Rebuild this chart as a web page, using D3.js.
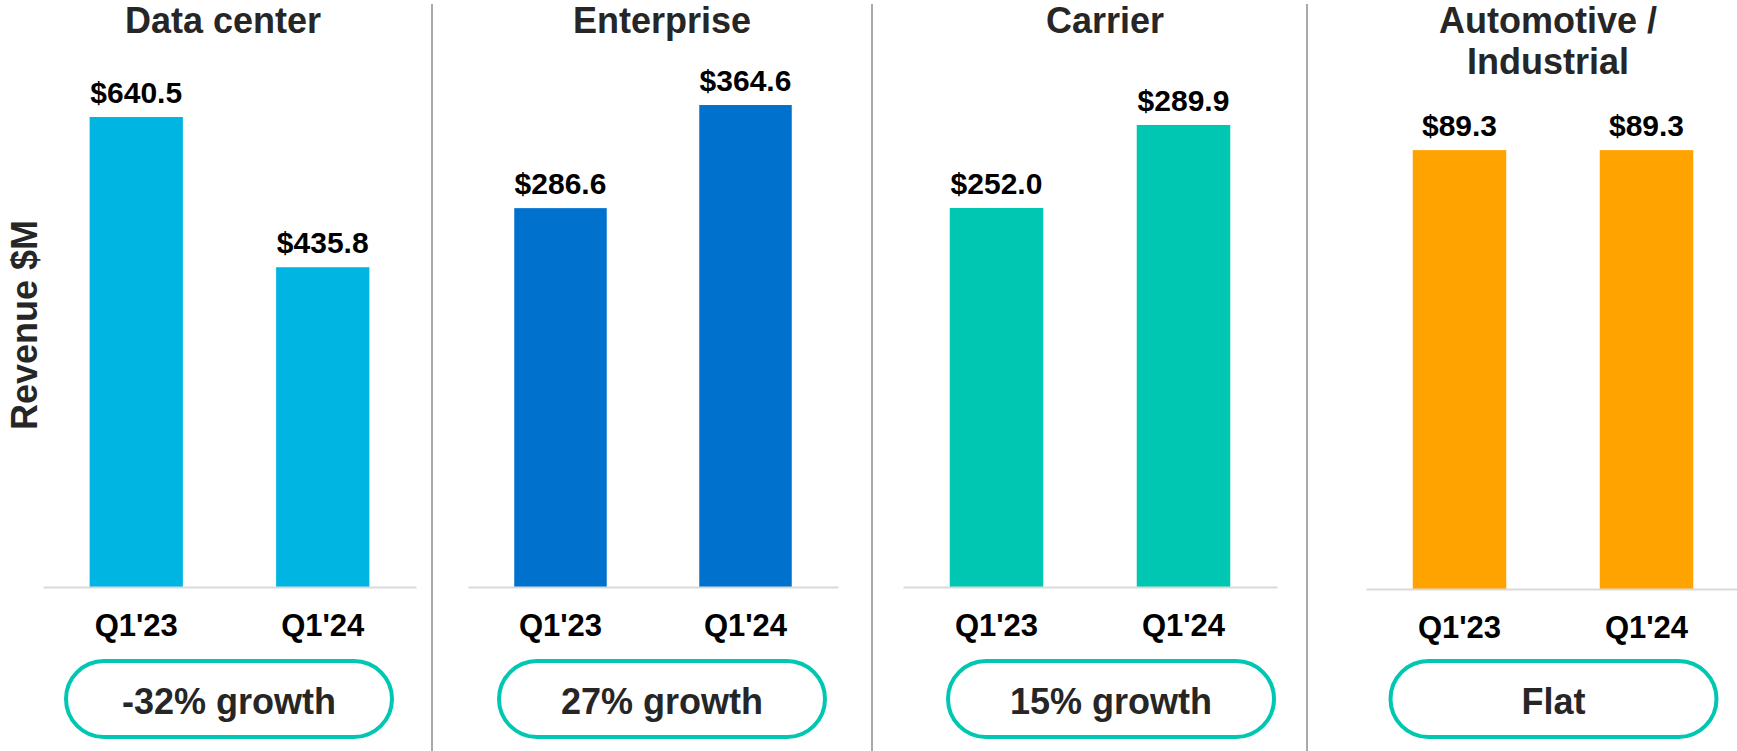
<!DOCTYPE html>
<html>
<head>
<meta charset="utf-8">
<script src="https://cdn.jsdelivr.net/npm/d3@7"></script>
<style>
  html, body { margin: 0; padding: 0; background: #fff; }
  svg { display: block; font-family: "Liberation Sans", Arial, sans-serif; }
</style>
</head>
<body>
<svg id="chart" width="1737" height="751"></svg>
<script>
// ---- data ----
const segments = ["Data center", "Enterprise", "Carrier", "Automotive / Industrial"];
const titleLines = [["Data center"], ["Enterprise"], ["Carrier"], ["Automotive /", "Industrial"]];
const periods = ["Q1'23", "Q1'24"];
const revenueQ123 = [640.5, 286.6, 252.0, 89.3];
const revenueQ124 = [435.8, 364.6, 289.9, 89.3];
const growthLabels = ["-32% growth", "27% growth", "15% growth", "Flat"];
const yDomainMin = [0, 0, 79, 0];
const yDomainMax = [663.7, 368.4, 301.3, 99.5];
const barColors = ["#00B5E2", "#0072CE", "#00C7B1", "#FFA300"];
const yAxisTitle = "Revenue $M";

// ---- layout ----
const layout = [
  { x0: 43,   x1: 416,  base: 587, titleX: 223,  pillX: 229 },
  { x0: 468,  x1: 838,  base: 587, titleX: 662,  pillX: 662 },
  { x0: 903,  x1: 1277, base: 587, titleX: 1105, pillX: 1111 },
  { x0: 1366, x1: 1740, base: 589, titleX: 1548, pillX: 1553.5 }
];
const plotTop = 100;
const separators = [432, 872, 1307];
const pillColor = "#00C7B1";
const darkText = "#262626";

const svg = d3.select("#chart");

// separators
svg.selectAll("line.sep").data(separators).join("line")
  .attr("class", "sep")
  .attr("x1", d => d).attr("x2", d => d)
  .attr("y1", 4).attr("y2", 751)
  .attr("stroke", "#8c8c8c").attr("stroke-width", 1.5);

// y axis title
svg.append("text")
  .attr("transform", "translate(37,325) rotate(-90)")
  .attr("text-anchor", "middle")
  .attr("font-size", 36).attr("font-weight", "bold")
  .attr("fill", darkText)
  .text(yAxisTitle);

segments.forEach((seg, i) => {
  const L = layout[i];
  const values = [revenueQ123[i], revenueQ124[i]];
  const data = periods.map((p, j) => ({ period: p, value: values[j] }));

  const x = d3.scaleBand().domain(periods).range([L.x0, L.x1])
    .paddingInner(0.5).paddingOuter(0.25);
  const y = d3.scaleLinear().domain([yDomainMin[i], yDomainMax[i]]).range([L.base, plotTop]);

  const g = svg.append("g");

  // title
  const t = g.append("text")
    .attr("text-anchor", "middle")
    .attr("font-size", 36).attr("font-weight", "bold")
    .attr("fill", darkText);
  titleLines[i].forEach((line, k) => {
    t.append("tspan").attr("x", L.titleX).attr("y", 33 + k * 41).text(line);
  });

  // bars
  g.selectAll("rect.bar").data(data).join("rect")
    .attr("class", "bar")
    .attr("x", d => x(d.period))
    .attr("width", x.bandwidth())
    .attr("y", d => y(d.value))
    .attr("height", d => L.base - y(d.value))
    .attr("fill", barColors[i]);

  // value labels
  g.selectAll("text.val").data(data).join("text")
    .attr("class", "val")
    .attr("x", d => x(d.period) + x.bandwidth() / 2)
    .attr("y", d => y(d.value) - 14)
    .attr("text-anchor", "middle")
    .attr("font-size", 30).attr("font-weight", "bold")
    .attr("fill", "#000")
    .text(d => "$" + d.value.toFixed(1));

  // x axis
  const axis = g.append("g")
    .attr("transform", `translate(0,${L.base})`)
    .call(d3.axisBottom(x).tickSize(0).tickPadding(27).tickSizeOuter(0));
  axis.select(".domain").attr("stroke", "#d9d9d9").attr("stroke-width", 2);
  axis.selectAll(".tick text")
    .attr("font-size", 31).attr("font-weight", "bold")
    .attr("font-family", "Liberation Sans, Arial, sans-serif")
    .attr("fill", "#000");

  // growth pill
  g.append("rect")
    .attr("x", L.pillX - 163).attr("y", 661)
    .attr("width", 326).attr("height", 76)
    .attr("rx", 38).attr("ry", 38)
    .attr("fill", "#fff")
    .attr("stroke", pillColor).attr("stroke-width", 4);
  g.append("text")
    .attr("x", L.pillX).attr("y", 714)
    .attr("text-anchor", "middle")
    .attr("font-size", 36).attr("font-weight", "bold")
    .attr("fill", darkText)
    .text(growthLabels[i]);
});
</script>
</body>
</html>
